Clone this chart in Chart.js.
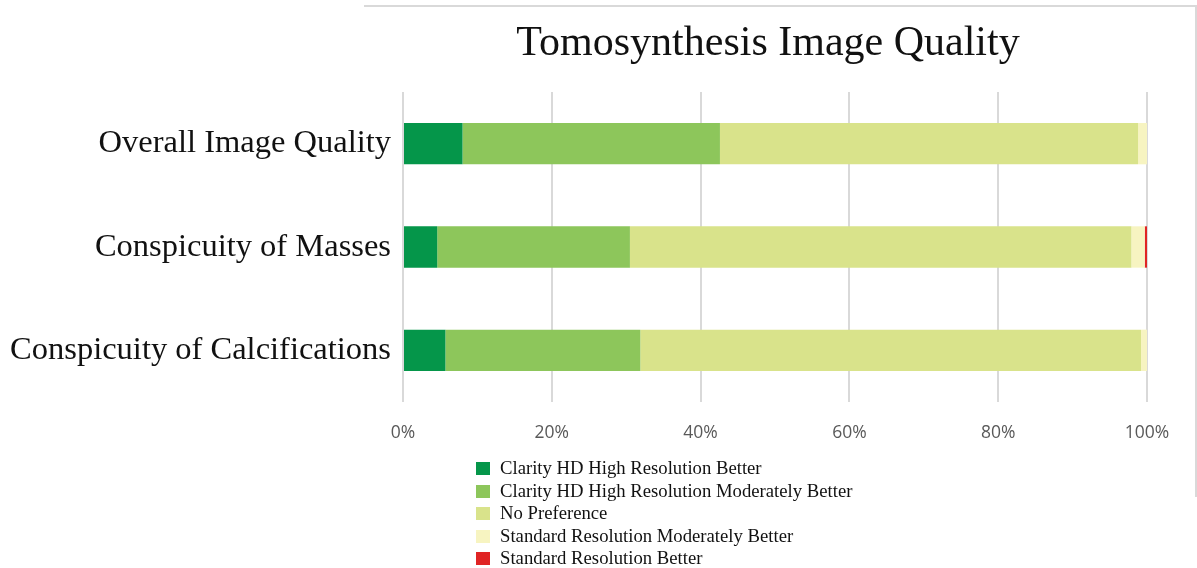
<!DOCTYPE html>
<html>
<head>
<meta charset="utf-8">
<script src="https://cdn.jsdelivr.net/npm/chart.js@4.4.1/dist/chart.umd.min.js"></script>
<style>
  html, body { margin: 0; padding: 0; background: #fff; }
  #wrap { position: relative; width: 1197px; height: 568px; overflow: hidden; }
  #frame { position: absolute; left: 364px; top: 5px; width: 831px; height: 490px;
           border-top: 2px solid #d9d9d9; border-right: 2px solid #d9d9d9; }
  #title { position: absolute; left: 468px; width: 600px; top: 16px; text-align: center;
           font-family: "Liberation Serif", "Times New Roman", serif; font-size: 42px;
           line-height: 50px; color: #111; }
  #legend { position: absolute; left: 476px; top: 457px;
            font-family: "Liberation Serif", "Times New Roman", serif; font-size: 18.7px; color: #111; }
  #legend div { height: 22.6px; line-height: 22.6px; white-space: nowrap; }
  #legend span { display: inline-block; width: 14px; height: 13px; margin-right: 10px; vertical-align: -1px; }
  canvas { position: absolute; left: 0; top: 0; }
</style>
</head>
<body>
<div id="wrap">
  <div id="frame"></div>
  <canvas id="myChart" width="1197" height="568"></canvas>
  <div id="title">Tomosynthesis Image Quality</div>
  <div id="legend"></div>
</div>
<script>
var categories = ['Overall Image Quality', 'Conspicuity of Masses', 'Conspicuity of Calcifications'];

var seriesNames = [
    'Clarity HD High Resolution Better',
    'Clarity HD High Resolution Moderately Better',
    'No Preference',
    'Standard Resolution Moderately Better',
    'Standard Resolution Better'
];

// percent of readers, per category
var hdBetter = [8.0, 4.6, 5.7];
var hdModerately = [34.6, 25.9, 26.2];
var noPreference = [56.2, 67.4, 67.3];
var stdModerately = [1.2, 1.8, 0.8];
var stdBetter = [0, 0.3, 0];

var xTicks = [0, 20, 40, 60, 80, 100];

var colors = ['#05964a', '#8dc65b', '#d9e38b', '#f7f4c1', '#e02424'];
var values = [hdBetter, hdModerately, noPreference, stdModerately, stdBetter];

var datasets = [];
for (let i = 0; i < seriesNames.length; i++) {
    datasets.push({
        label: seriesNames[i],
        data: values[i],
        backgroundColor: colors[i],
        borderWidth: 0,
        barPercentage: 0.4,
        categoryPercentage: 1
    });
}

var ctx = document.getElementById('myChart').getContext('2d');
var myChart = new Chart(ctx, {
    type: 'bar',
    data: {
        labels: categories,
        datasets: datasets
    },
    options: {
        indexAxis: 'y',
        responsive: false,
        devicePixelRatio: 1,
        animation: false,
        layout: { padding: { top: 92, left: 0, right: 50, bottom: 118 } },
        plugins: {
            legend: { display: false },
            title: { display: false },
            tooltip: { enabled: false }
        },
        scales: {
            x: {
                stacked: true,
                min: 0,
                max: 100,
                afterBuildTicks: function (scale) {
                    scale.ticks = xTicks.map(function (v) { return { value: v }; });
                },
                afterFit: function (scale) { scale.height = 48; },
                ticks: {
                    padding: 21,
                    color: '#595959',
                    font: { family: 'Open Sans, Liberation Sans, sans-serif', size: 17.5 },
                    callback: function (v) { return v + '%'; }
                },
                grid: { color: '#d9d9d9', lineWidth: 2, drawTicks: false },
                border: { display: false }
            },
            y: {
                stacked: true,
                afterFit: function (scale) { scale.width = 403; },
                ticks: {
                    padding: 12,
                    color: '#111',
                    font: { family: 'Liberation Serif, Times New Roman, serif', size: 32.5 }
                },
                grid: { display: false, drawTicks: false },
                border: { display: false }
            }
        }
    }
});

// legend as a vertical list under the chart
var legendBox = document.getElementById('legend');
myChart.data.datasets.forEach(function (ds) {
    var row = document.createElement('div');
    var sw = document.createElement('span');
    sw.style.background = ds.backgroundColor;
    row.appendChild(sw);
    row.appendChild(document.createTextNode(ds.label));
    legendBox.appendChild(row);
});
</script>
</body>
</html>
